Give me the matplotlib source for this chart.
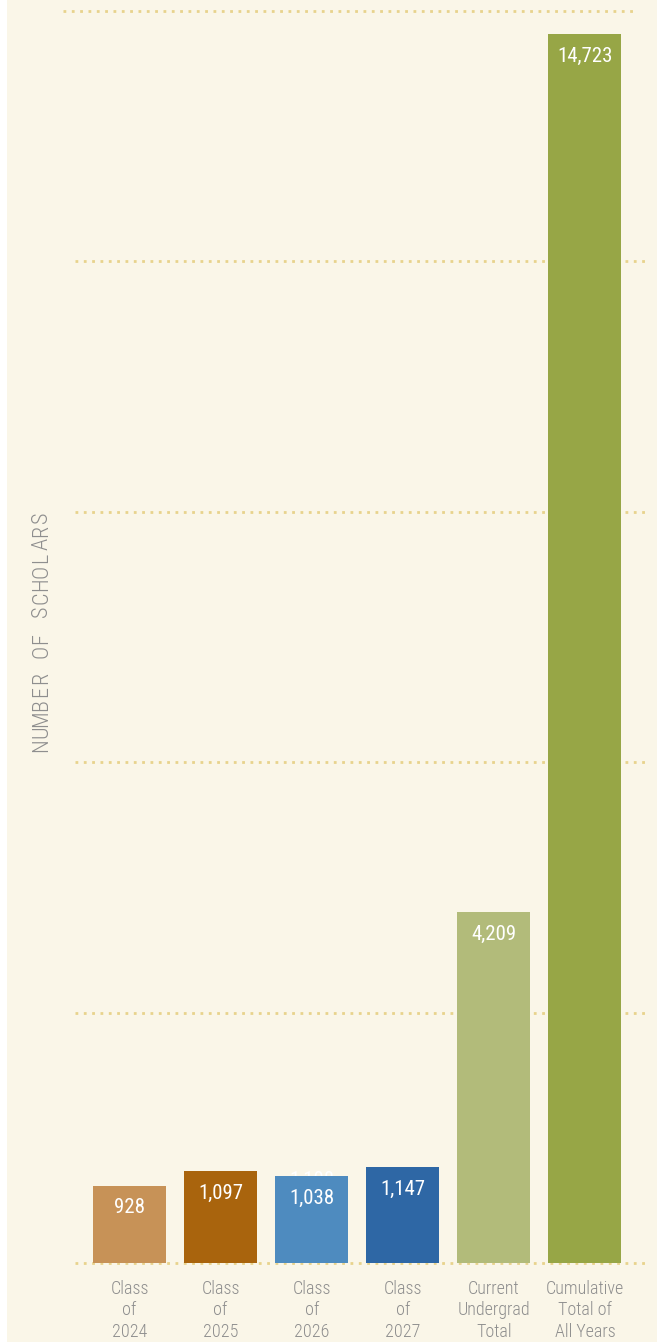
import matplotlib
matplotlib.use("Agg")
import matplotlib.pyplot as plt
from matplotlib.patches import Rectangle
from matplotlib import font_manager

# chart data
categories = ["Class\nof\n2024", "Class\nof\n2025", "Class\nof\n2026",
              "Class\nof\n2027", "Current\nUndergrad\nTotal", "Cumulative\nTotal of\nAll Years"]
scholars = [928, 1097, 1038, 1147, 4209, 14723]
bar_colors = ["#C79257", "#A9640D", "#4E8BBF", "#2E67A5", "#B2BB7A", "#97A646"]
y_ticks = [0, 3000, 6000, 9000, 12000, 15000]
ghost_label = "1,108"  # faint label peeking out behind the Class of 2026 bar
y_title = "NUMBER OF SCHOLARS"

names = {f.name for f in font_manager.fontManager.ttflist}
FONT = [n for n in ["Roboto Condensed", "Liberation Sans Narrow"] if n in names] + ["DejaVu Sans"]
BG = "#FAF6E8"
GRID = "#E8D38C"
TEXT = "#8E8E8E"

W, H = 666, 1342
fig = plt.figure(figsize=(W / 100, H / 100), dpi=100)
fig.patch.set_facecolor("white")
# cream panel (white strips left / right)
fig.patches.append(Rectangle((7 / W, 0), (657 - 7) / W, 1, transform=fig.transFigure,
                             facecolor=BG, edgecolor="none", zorder=-10))

# axes: x from px 75 to 645, y baseline px 1263, top px 11
ax = fig.add_axes([75 / W, (H - 1263) / H, (645 - 75) / W, (1263 - 11) / H])
ax.set_facecolor("none")
ax.set_ylim(0, 15000)
ax.set_xlim(-0.6, 5.66)

# dotted gridlines (top one sits a little further left)
for t in y_ticks:
    shift = -0.13 if t == y_ticks[-1] else 0
    ax.plot([-0.6 + shift, 5.66 + shift], [t, t], linestyle=(0, (1, 2)), color=GRID,
            linewidth=2, dash_capstyle="butt", clip_on=False, zorder=1)

xs = list(range(len(scholars)))
bars = ax.bar(xs, scholars, width=0.8, color=bar_colors, zorder=3)

# ghost label under the 2026 bar
ax.annotate(ghost_label, (xs[2], scholars[2]), xytext=(0, -3), textcoords="offset points",
            ha="center", va="center", color="white", fontsize=15, family=FONT, zorder=2)

for x, v in zip(xs, scholars):
    ax.annotate(f"{v:,}", (x, v), xytext=(0, -16), textcoords="offset points",
                ha="center", va="center", color="white", fontsize=15, family=FONT, zorder=4)

ax.set_xticks(xs)
ax.set_xticklabels(categories, family=FONT, fontsize=13, color=TEXT, linespacing=1.25,
                   fontweight="light")
ax.tick_params(axis="x", length=0, pad=12)
ax.set_yticks([])
for s in ax.spines.values():
    s.set_visible(False)

# letter-spaced vertical title, one glyph per slot
step = 13.4
for i, ch in enumerate(y_title):
    if ch == " ":
        continue
    fig.text(42 / W, (H - 752 + step / 2 + i * step) / H, ch, rotation=90,
             ha="center", va="center", family=FONT, fontsize=16, color=TEXT,
             fontweight="light")

fig.savefig("out.png", dpi=100, facecolor=fig.get_facecolor())
